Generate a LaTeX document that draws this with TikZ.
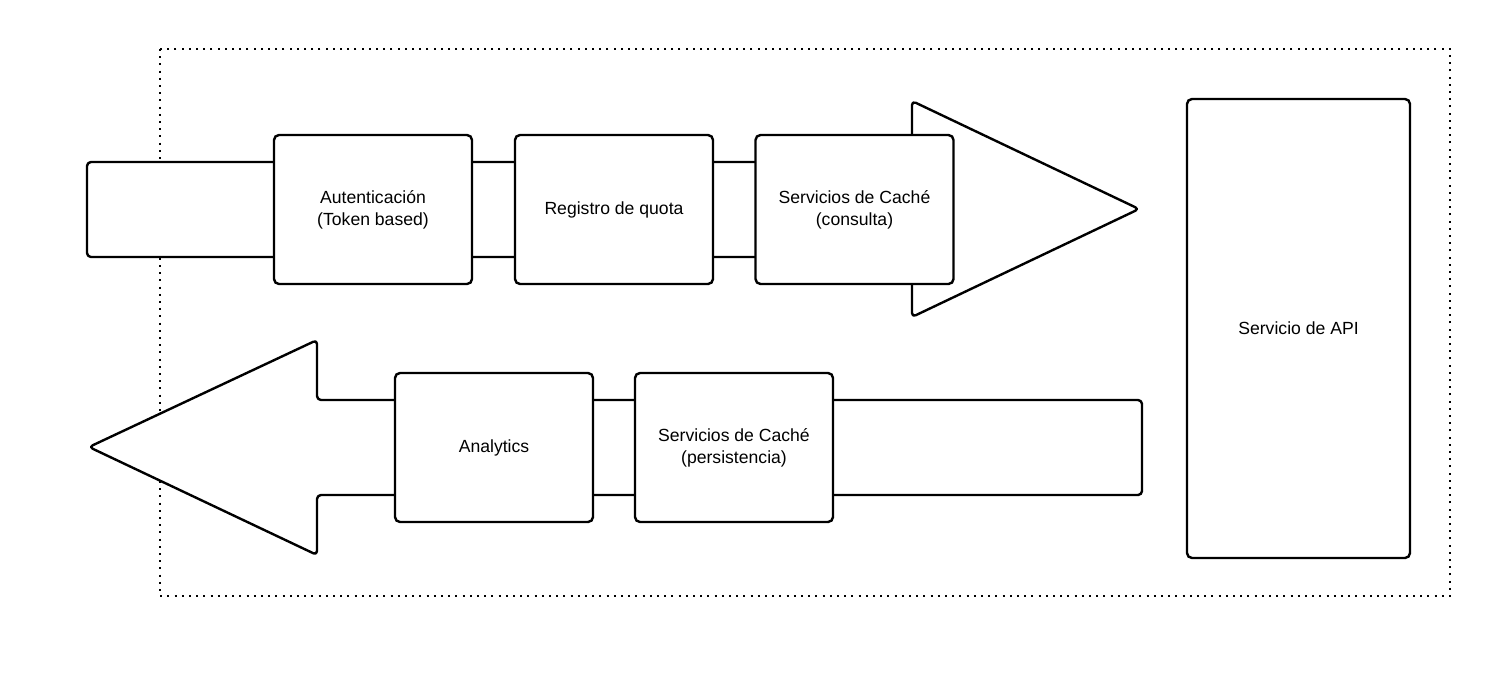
\documentclass[tikz,border=0pt]{standalone}
\usepackage{fontspec}
\setmainfont{Liberation Sans}
\begin{document}
\begin{tikzpicture}[x=1pt,y=-1pt,
  line width=2.4pt,
  every node/.style={font=\fontsize{17.6}{22}\selectfont, align=center},
  stagebox/.style={draw, fill=white, rounded corners=5pt, minimum width=198pt, minimum height=149pt, inner sep=0pt},
  arrowshape/.style={draw, fill=white, rounded corners=4pt, line join=round},
  frame/.style={line width=2pt, dash pattern=on 2pt off 5.2pt}
]
\useasboundingbox (0,0) rectangle (1509,681);
\draw[frame] (160,49) rectangle (1450,596);

% top arrow (request)
\draw[arrowshape] (87,162) -- (912,162) -- (912,101) -- (1139,209) -- (912,317) -- (912,257) -- (87,257) -- cycle;
% bottom arrow (response)
\draw[arrowshape] (1142,400) -- (317,400) -- (317,340) -- (89,447) -- (317,555) -- (317,495) -- (1142,495) -- cycle;

\node[stagebox] (auth) at (373,209.5) {Autenticación\\(Token based)};
\node[stagebox] (quota) at (614,209.5) {Registro de quota};
\node[stagebox] (cachec) at (854.5,209.5) {Servicios de Caché\\(consulta)};

\node[stagebox] (analytics) at (494,447.5) {Analytics};
\node[stagebox] (cachep) at (734,447.5) {Servicios de Caché\\(persistencia)};

\node[draw, fill=white, rounded corners=5pt, minimum width=223pt, minimum height=459pt, inner sep=0pt] (api) at (1298.5,328.5) {Servicio de API};
\end{tikzpicture}
\end{document}
